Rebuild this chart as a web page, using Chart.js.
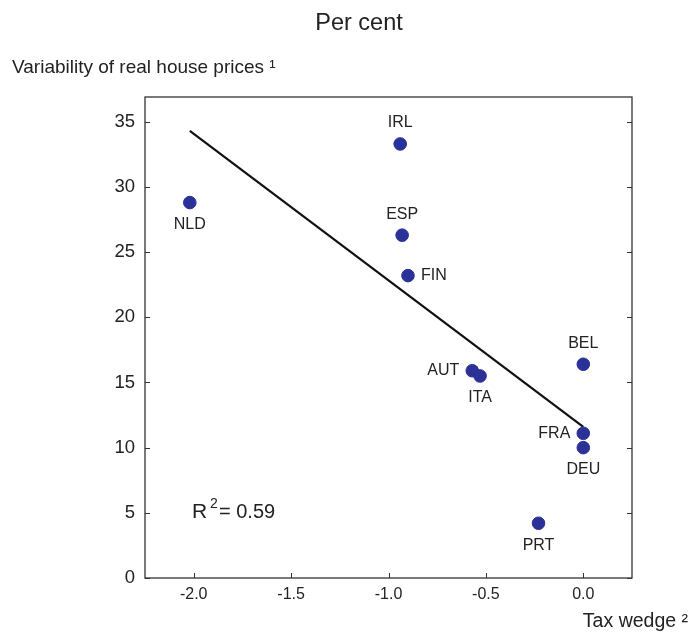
<!DOCTYPE html>
<html>
<head>
<meta charset="utf-8">
<script src="https://cdn.jsdelivr.net/npm/chart.js@4.4.1/dist/chart.umd.min.js"></script>
<style>
  html, body { margin: 0; padding: 0; background: #fff; }
  canvas { display: block; }
</style>
</head>
<body>
<canvas id="houseChart" width="689" height="632"></canvas>
<script>
// Country codes and values
const countries = ['IRL', 'NLD', 'ESP', 'FIN', 'BEL', 'AUT', 'ITA', 'FRA', 'DEU', 'PRT'];
const taxWedge = [-0.94, -2.02, -0.93, -0.90, 0.0, -0.57, -0.53, 0.0, 0.0, -0.23];
const priceVariability = [33.3, 28.8, 26.3, 23.2, 16.4, 15.9, 15.5, 11.1, 10.0, 4.2];
// where each country label sits relative to its dot
const labelSide = ['above', 'below', 'above', 'right', 'above', 'left', 'below', 'left', 'below', 'below'];

// fitted line end points
const trendX = [-2.02, 0.0];
const trendY = [34.3, 11.6];

const xTicks = [-2.0, -1.5, -1.0, -0.5, 0.0];
const yTicks = [0, 5, 10, 15, 20, 25, 30, 35];

const FONT = '"Liberation Sans", Arial, sans-serif';
const TEXT = '#222222';
const DOT = '#2b3196';

// Draws the box round the plot and the inward tick marks
const framePlugin = {
    id: 'frame',
    afterDatasetsDraw(chart) {
        const ctx = chart.ctx;
        const a = chart.chartArea;
        const xs = chart.scales.x;
        const ys = chart.scales.y;
        ctx.save();
        ctx.strokeStyle = '#333333';
        ctx.lineWidth = 1.3;
        ctx.strokeRect(a.left, a.top, a.right - a.left, a.bottom - a.top);
        ctx.lineWidth = 1;
        ctx.beginPath();
        yTicks.forEach(v => {
            const y = Math.round(ys.getPixelForValue(v)) + 0.5;
            ctx.moveTo(a.left, y);
            ctx.lineTo(a.left + 5, y);
            ctx.moveTo(a.right, y);
            ctx.lineTo(a.right - 5, y);
        });
        xTicks.forEach(v => {
            const x = Math.round(xs.getPixelForValue(v)) + 0.5;
            ctx.moveTo(x, a.bottom);
            ctx.lineTo(x, a.bottom - 5);
        });
        ctx.stroke();
        ctx.restore();
    }
};

// Country names next to the dots, plus titles and R squared
const textPlugin = {
    id: 'texts',
    afterDraw(chart) {
        const ctx = chart.ctx;
        const meta = chart.getDatasetMeta(0);
        ctx.save();
        ctx.fillStyle = TEXT;
        ctx.font = '16px ' + FONT;
        ctx.textBaseline = 'middle';
        meta.data.forEach((pt, i) => {
            const side = labelSide[i];
            if (side === 'above') {
                ctx.textAlign = 'center';
                ctx.fillText(countries[i], pt.x, pt.y - 21);
            } else if (side === 'below') {
                ctx.textAlign = 'center';
                ctx.fillText(countries[i], pt.x, pt.y + 22);
            } else if (side === 'left') {
                ctx.textAlign = 'right';
                ctx.fillText(countries[i], pt.x - 13, pt.y);
            } else {
                ctx.textAlign = 'left';
                ctx.fillText(countries[i], pt.x + 13, pt.y);
            }
        });

        // title
        ctx.textAlign = 'center';
        ctx.font = '23.5px ' + FONT;
        ctx.fillText('Per cent', 359, 24);

        // axis titles
        ctx.font = '19px ' + FONT;
        ctx.textAlign = 'left';
        ctx.fillText('Variability of real house prices \u00b9', 12, 68);
        ctx.font = '19.5px ' + FONT;
        ctx.textAlign = 'right';
        ctx.fillText('Tax wedge \u00b2', 688, 622);

        // R squared
        ctx.textAlign = 'left';
        ctx.font = '21px ' + FONT;
        ctx.fillText('R', 192, 512);
        ctx.font = '14px ' + FONT;
        ctx.fillText('2', 210, 504);
        ctx.font = '20px ' + FONT;
        ctx.fillText('= 0.59', 219, 512);
        ctx.restore();
    }
};

const chartCtx = document.getElementById('houseChart').getContext('2d');
const houseChart = new Chart(chartCtx, {
    type: 'scatter',
    data: {
        datasets: [{
            label: 'Countries',
            data: countries.map((c, i) => ({ x: taxWedge[i], y: priceVariability[i] })),
            backgroundColor: DOT,
            borderColor: DOT,
            pointRadius: 6.3,
            pointHoverRadius: 6.3,
            order: 1
        }, {
            type: 'line',
            label: 'Trend',
            data: trendX.map((x, i) => ({ x: x, y: trendY[i] })),
            borderColor: '#111111',
            borderWidth: 2.2,
            pointRadius: 0,
            fill: false,
            order: 2
        }]
    },
    options: {
        responsive: false,
        animation: false,
        layout: {
            padding: { top: 97, right: 57, bottom: 0, left: 0 }
        },
        plugins: {
            legend: { display: false },
            tooltip: { enabled: false }
        },
        scales: {
            x: {
                type: 'linear',
                min: -2.25,
                max: 0.25,
                afterFit(scale) { scale.height = 54; },
                afterBuildTicks(scale) { scale.ticks = xTicks.map(v => ({ value: v })); },
                grid: { display: false, drawTicks: false },
                border: { display: false },
                ticks: {
                    padding: 7,
                    color: TEXT,
                    font: { family: FONT, size: 16 },
                    callback: v => v.toFixed(1)
                }
            },
            y: {
                type: 'linear',
                min: 0,
                max: 36.9,
                afterFit(scale) { scale.width = 145; },
                afterBuildTicks(scale) { scale.ticks = yTicks.map(v => ({ value: v })); },
                grid: { display: false, drawTicks: false },
                border: { display: false },
                ticks: {
                    padding: 10,
                    color: TEXT,
                    font: { family: FONT, size: 18.5 },
                    callback: v => String(v)
                }
            }
        }
    },
    plugins: [framePlugin, textPlugin]
});
</script>
</body>
</html>
